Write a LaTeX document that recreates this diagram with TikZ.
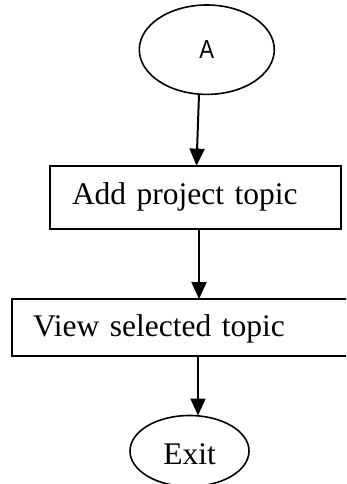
\documentclass[tikz,border=0pt]{standalone}
\usepackage{fontspec}
\setmainfont{Liberation Serif}
\newfontfamily\labelsans{Liberation Sans}
\usetikzlibrary{shapes.geometric,arrows.meta}

\begin{document}
\begin{tikzpicture}[x=1pt,y=-1pt,
  every node/.style={inner sep=0pt,outer sep=0pt},
  ovalbox/.style={ellipse,draw,line width=1.6pt},
  stepbox/.style={rectangle,draw,line width=1.8pt,align=left,
    font=\fontsize{31.5}{36}\selectfont},
  flow/.style={line width=2pt,-{Triangle[width=15pt,length=17pt]}}]
  \clip (0,0) rectangle (346,484);

  % start connector
  \node[ovalbox,minimum width=135pt,minimum height=89.4pt,
    font=\labelsans\fontsize{26}{30}\selectfont] (a) at (206.8,49.7)
    {\scalebox{0.85}[1]{A}};

  % process steps
  \node[stepbox,text width=247pt,inner xsep=22pt,minimum height=63.3pt,
    text height=22pt,text depth=6.8pt] (add) at (195.5,197.3)
    {Add project topic};
  \node[stepbox,text width=332pt,inner xsep=21pt,minimum height=56.7pt,
    text height=25pt,text depth=6.8pt] (view) at (199,327.4)
    {View selected topic};

  % terminal
  \node[ovalbox,minimum width=119pt,minimum height=71pt,
    font=\fontsize{31.5}{36}\selectfont,text height=27pt,text depth=0pt]
    (exit) at (189.5,451) {Exit};

  % connectors
  \draw[flow] ([xshift=-7.8pt]a.south) -- ([xshift=1pt]add.north);
  \draw[flow] ([xshift=3.5pt]add.south) -- (view.north);
  \draw[flow] ([xshift=-1pt]view.south) -- ([xshift=-1pt]view.south |- exit.north);
\end{tikzpicture}
\end{document}
